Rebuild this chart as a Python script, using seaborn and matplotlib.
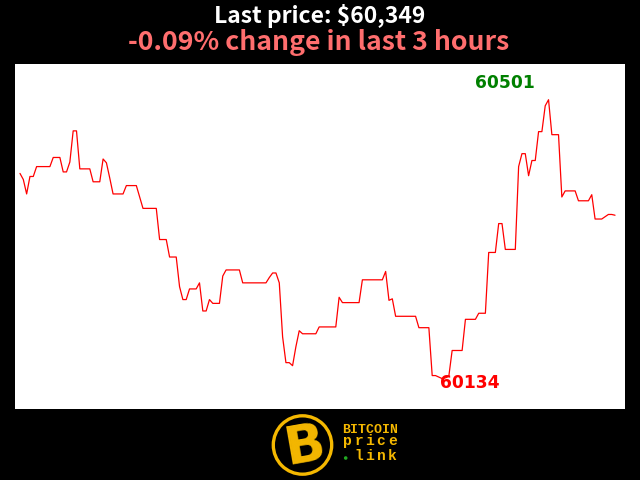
import matplotlib
matplotlib.use("Agg")
import matplotlib.pyplot as plt
import seaborn as sns
import numpy as np
from matplotlib.patches import Circle

# one price per minute over the last 3 hours
prices = [
    60404, 60396, 60377, 60400, 60400, 60413, 60413, 60413, 60413, 60413,
    60425, 60425, 60425, 60406, 60406, 60419, 60460, 60460, 60410, 60410,
    60410, 60410, 60393, 60393, 60393, 60423, 60418, 60398, 60377, 60377,
    60377, 60377, 60388, 60388, 60388, 60388, 60373, 60358, 60358, 60358,
    60358, 60358, 60317, 60317, 60317, 60294, 60294, 60294, 60255, 60238,
    60238, 60252, 60252, 60252, 60260, 60223, 60223, 60238, 60233, 60233,
    60233, 60269, 60277, 60277, 60277, 60277, 60277, 60260, 60260, 60260,
    60260, 60260, 60260, 60260, 60260, 60267, 60273, 60273, 60260, 60189,
    60155, 60155, 60151, 60176, 60197, 60193, 60193, 60193, 60193, 60193,
    60202, 60202, 60202, 60202, 60202, 60202, 60241, 60234, 60234, 60234,
    60234, 60234, 60234, 60264, 60264, 60264, 60264, 60264, 60264, 60264,
    60275, 60237, 60239, 60216, 60216, 60216, 60216, 60216, 60216, 60216,
    60201, 60201, 60201, 60201, 60138, 60138, 60136, 60134, 60135, 60137,
    60171, 60171, 60171, 60171, 60212, 60212, 60212, 60212, 60220, 60220,
    60220, 60300, 60300, 60300, 60338, 60338, 60304, 60304, 60304, 60304,
    60413, 60430, 60430, 60401, 60421, 60421, 60459, 60459, 60493, 60501,
    60455, 60455, 60455, 60373, 60381, 60381, 60381, 60381, 60368, 60368,
    60368, 60368, 60376, 60344, 60344, 60344, 60347, 60350, 60350, 60349,
]
minutes = list(range(len(prices)))

last_price = prices[-1]
pct_change = (prices[-1] - prices[0]) / prices[0] * 100

sns.set_style("white")
plt.rcParams['font.family'] = ['Noto Sans CJK JP', 'DejaVu Sans']

W, H = 640, 480


def px(x, y):
    # pixel position (from top left) -> figure fraction
    return x / W, 1 - y / H


fig = plt.figure(figsize=(6.4, 4.8), dpi=100, facecolor='black')
ax = fig.add_axes([15/W, 71/H, 610/W, 345/H])
ax.set_facecolor('white')

sns.lineplot(x=minutes, y=prices, color='red', linewidth=0.9, ax=ax)
ax.set_xlim(-1.5, 182)
ax.set_ylim(60094, 60548)
ax.set_xticks([])
ax.set_yticks([])
for spine in ax.spines.values():
    spine.set_visible(False)

imax = int(np.argmax(prices))
imin = int(np.argmin(prices))
ax.annotate(str(prices[imax]), xy=(imax, prices[imax]), xytext=(-14, 8),
            textcoords='offset pixels', ha='right', va='bottom',
            color='green', fontsize=12.3, fontweight='bold', family='DejaVu Sans')
ax.annotate(str(prices[imin]), xy=(imin, prices[imin]), xytext=(-2, -4),
            textcoords='offset pixels', ha='left', va='center',
            color='red', fontsize=12.3, fontweight='bold', family='DejaVu Sans')

fig.text(*px(320, 16), f"Last price: ${last_price:,}", ha='center', va='center',
         color='white', fontsize=16.5, fontweight='bold')
fig.text(*px(319, 42), f"{pct_change:.2f}% change in last 3 hours", ha='center',
         va='center', color='#ff6e6e', fontsize=19.2, fontweight='bold')

# logo
gold = '#f5b800'
fig.patches.append(Circle((3.025, 0.35), 0.292, transform=fig.dpi_scale_trans,
                          facecolor='black', edgecolor=gold, linewidth=2.4))
fig.text(*px(304, 446), 'B', ha='center', va='center', color=gold,
         fontsize=38, fontweight='bold', rotation=10, family='DejaVu Sans')
fig.text(*px(370, 430), 'BITCOIN', ha='center', va='center', color=gold,
         fontsize=9.5, fontweight='bold', family='Liberation Mono')
for i, ch in enumerate('price'):
    fig.text(*px(347.5 + i * 11.2, 445), ch, ha='center', va='baseline', color=gold,
             fontsize=10.5, fontweight='bold', family='Liberation Mono')
for i, ch in enumerate('link'):
    fig.text(*px(358.7 + i * 11.2, 460), ch, ha='center', va='baseline', color=gold,
             fontsize=10.5, fontweight='bold', family='Liberation Mono')
fig.patches.append(Circle((3.457, 0.22), 0.018, transform=fig.dpi_scale_trans,
                          facecolor='#22aa22', edgecolor='none'))

fig.savefig('out.png', dpi=100, facecolor='black')
